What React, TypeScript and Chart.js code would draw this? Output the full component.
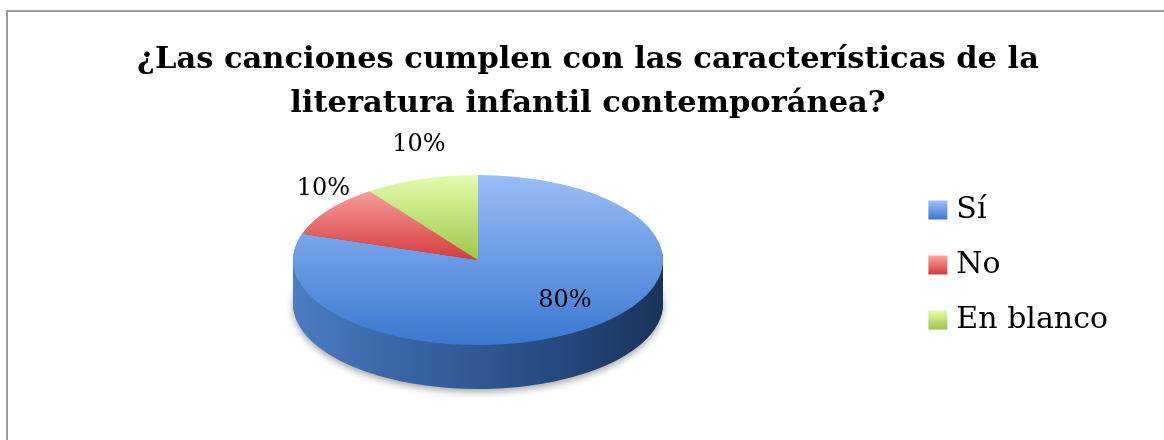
import React, { useEffect, useRef } from "react";
import { Chart, registerables } from "chart.js";

Chart.register(...registerables);

// ---- data ----
const categories = ["Sí", "No", "En blanco"];
const values = [80, 10, 10];
const titleLines = [
  "¿Las canciones cumplen con las características de la",
  "literatura infantil contemporánea?",
];

// ---- styles ----
const topColors = [
  ["#9abdf6", "#3a78d1"],
  ["#ffb2b2", "#d53c3c"],
  ["#e3fcab", "#9ec64a"],
];
const sideStops = [
  ["#4d7cc2", "#3c68aa", "#2f5894", "#24467a", "#1a3358"],
  ["#b04040", "#a03434", "#902c2c", "#7c2424", "#661c1c"],
  ["#8cae44", "#809f3c", "#739034", "#657f2c", "#566c24"],
];
const legendGrad = [
  ["#9dc0f8", "#3c78cf"],
  ["#ffa3a3", "#d23b3b"],
  ["#e3fdac", "#9cc446"],
];

const CANVAS_W = 1160;
const CANVAS_H = 428;
const CX = 470; // ellipse centre (canvas px)
const CY = 248;
const RX = 185;
const RY = 85;
const DEPTH = 44;
const LEGEND_FONT = 30;
const LEGEND_BOXW = 12;

const pie3d = {
  id: "pie3d",
  beforeDatasetsDraw(chart: any) {
    const meta = chart.getDatasetMeta(0);
    const arcs = meta.data;
    const ctx = chart.ctx as CanvasRenderingContext2D;
    ctx.save();
    if (!arcs.length) return;
    const cx0 = arcs[0].x;
    const cy0 = arcs[0].y;
    const R = arcs[0].outerRadius;
    const k = RY / R;
    const dpr = chart.currentDevicePixelRatio || 1;
    const tx = CX - cx0;
    const ty = CY - k * cy0;
    const grads = sideStops.map((stops) => {
      const g = ctx.createLinearGradient(cx0 - R, 0, cx0 + R, 0);
      stops.forEach((c, j) => g.addColorStop(j / (stops.length - 1), c));
      return g;
    });
    for (let s = DEPTH; s >= 1; s--) {
      ctx.setTransform(dpr, 0, 0, dpr * k, dpr * tx, dpr * (ty + s));
      if (s === DEPTH) {
        ctx.shadowColor = "rgba(0,0,0,0.35)";
        ctx.shadowBlur = 7;
        ctx.shadowOffsetY = 3;
      } else {
        ctx.shadowColor = "rgba(0,0,0,0)";
        ctx.shadowBlur = 0;
        ctx.shadowOffsetY = 0;
      }
      arcs.forEach((arc: any, i: number) => {
        const proxy = Object.create(arc);
        proxy.options = { ...arc.options, backgroundColor: grads[i], borderWidth: 0 };
        arc.draw.call(proxy, ctx);
      });
    }
    ctx.shadowColor = "rgba(0,0,0,0)";
    ctx.shadowBlur = 0;
    ctx.shadowOffsetY = 0;
    ctx.setTransform(dpr, 0, 0, dpr * k, dpr * tx, dpr * ty);
  },
  afterDatasetsDraw(chart: any) {
    const ctx = chart.ctx as CanvasRenderingContext2D;
    ctx.restore();
    const arcs = chart.getDatasetMeta(0).data;
    const total = values.reduce((a, b) => a + b, 0);
    ctx.save();
    ctx.font = '24px "DejaVu Serif"';
    ctx.fillStyle = "#000";
    ctx.textAlign = "center";
    ctx.textBaseline = "middle";
    arcs.forEach((arc: any, i: number) => {
      const mid = (arc.startAngle + arc.endAngle) / 2;
      const frac = values[i] / total;
      let x: number, y: number;
      if (frac >= 0.25) {
        x = CX + RX * 0.8 * Math.cos(mid);
        y = CY + RY * 0.6 * Math.sin(mid);
      } else {
        x = CX + (RX + 6) * Math.cos(mid);
        y = CY + (RY + 36) * Math.sin(mid);
      }
      ctx.fillText(`${Math.round(frac * 100)}%`, x, y);
    });
    ctx.restore();
  },
  afterDraw(chart: any) {
    const legend = chart.legend;
    if (!legend || !legend.legendHitBoxes) return;
    const ctx = chart.ctx as CanvasRenderingContext2D;
    ctx.save();
    legend.legendHitBoxes.forEach((hb: any, i: number) => {
      const textX = hb.left + LEGEND_BOXW + LEGEND_FONT / 2;
      const x = textX - 28;
      const y = hb.top + LEGEND_FONT / 2 - 9.5;
      const g = ctx.createLinearGradient(0, y, 0, y + 19);
      g.addColorStop(0, legendGrad[i][0]);
      g.addColorStop(1, legendGrad[i][1]);
      ctx.fillStyle = g;
      ctx.fillRect(x, y, 19, 19);
    });
    ctx.restore();
  },
};

export default function App() {
  const ref = useRef<HTMLCanvasElement | null>(null);
  useEffect(() => {
    if (!ref.current) return;
    const chart = new Chart(ref.current, {
      type: "pie",
      data: {
        labels: categories,
        datasets: [
          {
            data: values,
            radius: RX,
            borderWidth: 0,
            clip: false,
            backgroundColor: (c: any) => {
              const i = c.dataIndex;
              const chart = c.chart;
              const area = chart.chartArea;
              if (!area || i === undefined) return topColors[0][0];
              const cy0 = (area.top + area.bottom) / 2;
              const y1 = i === 0 ? cy0 + RX : cy0;
              const g = chart.ctx.createLinearGradient(0, cy0 - RX, 0, y1);
              g.addColorStop(0, topColors[i][0]);
              g.addColorStop(1, topColors[i][1]);
              return g;
            },
          } as any,
        ],
      },
      options: {
        responsive: false,
        maintainAspectRatio: false,
        animation: false,
        events: [],
        layout: { padding: { left: 50, right: 50, top: 0, bottom: 80 } },
        plugins: {
          title: {
            display: true,
            text: titleLines,
            color: "#000",
            font: { family: "DejaVu Serif", size: 30.5, weight: "bold", lineHeight: 44 / 30.5 },
            padding: { top: 26, bottom: 4 },
          },
          legend: {
            display: true,
            position: "right",
            align: "end",
            labels: {
              boxWidth: LEGEND_BOXW,
              boxHeight: 19,
              padding: 25,
              color: "#000",
              textAlign: "left",
              font: { family: "DejaVu Serif", size: LEGEND_FONT },
              generateLabels: () =>
                categories.map((t, i) => ({
                  text: t,
                  fillStyle: "rgba(0,0,0,0)",
                  strokeStyle: "rgba(0,0,0,0)",
                  lineWidth: 0,
                  hidden: false,
                  index: i,
                  fontColor: "#000",
                })),
            },
          },
          tooltip: { enabled: false },
        },
      },
      plugins: [pie3d],
    });
    return () => chart.destroy();
  }, []);

  return (
    <div
      style={{
        position: "fixed",
        left: 0,
        top: 0,
        width: 1164,
        height: 440,
        overflow: "hidden",
        background: "#fff",
      }}
    >
      <div
        style={{
          position: "absolute",
          left: 6,
          top: 10,
          width: CANVAS_W,
          height: CANVAS_H,
          border: "2px solid #9c9c9c",
          background: "#fff",
        }}
      >
        <canvas
          ref={ref}
          width={CANVAS_W}
          height={CANVAS_H}
          style={{ display: "block", width: CANVAS_W, height: CANVAS_H }}
        />
      </div>
    </div>
  );
}
